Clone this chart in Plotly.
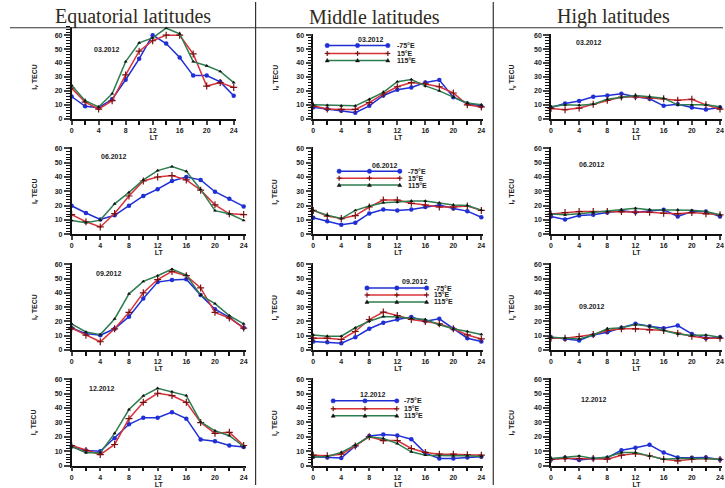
import plotly.graph_objects as go

# ---------------- data ----------------
LT = [0, 2, 4, 6, 8, 10, 12, 14, 16, 18, 20, 22, 24]
X_TICKS = [0, 4, 8, 12, 16, 20, 24]
Y_TICKS = [0, 10, 20, 30, 40, 50, 60]
SERIES_NAMES = ["-75°E", "15°E", "115°E"]
MONTHS = ["03.2012", "06.2012", "09.2012", "12.2012"]
ZONES = ["Equatorial latitudes", "Middle latitudes", "High latitudes"]

# Equatorial
EQ_03_W75 = [16, 9, 8, 14, 28, 43, 60, 54, 44, 31, 31, 26.5, 16.5]
EQ_03_E15 = [22, 12, 7, 13, 31.5, 48.5, 56, 60, 60, 46.5, 23.5, 26, 22.5]
EQ_03_E115 = [24, 13, 8.5, 18, 41, 54.5, 58, 65, 61, 41, 38, 34, 26]
EQ_06_W75 = [19.9, 14.8, 10.3, 13.2, 19.9, 26.7, 31.5, 37.2, 40, 38, 29.7, 24.7, 19.4]
EQ_06_E15 = [13.7, 8.7, 5, 14.4, 26.7, 37.2, 40, 41, 38, 30.8, 20.5, 14.2, 13.7]
EQ_06_E115 = [9.6, 8, 9.8, 21.2, 29.2, 38, 44.5, 47.3, 44, 31.3, 16.4, 14.2, 9.6]
EQ_09_W75 = [15.3, 11.4, 10.3, 14.8, 23.3, 36, 47.5, 49, 49.5, 38.4, 28.5, 22.8, 15.5]
EQ_09_E15 = [15.3, 10.3, 5.7, 14.8, 26.3, 40, 49.3, 55, 52, 43.4, 26.3, 22.4, 15.3]
EQ_09_E115 = [18.3, 12.6, 10.7, 21.7, 39.3, 48, 52, 56.6, 52.5, 38.4, 32.4, 24, 18.3]
EQ_12_W75 = [13.3, 10.6, 10, 19, 28.7, 33.3, 33.3, 37.1, 32.6, 18.1, 17, 14, 12.9]
EQ_12_E15 = [14, 10.6, 7.7, 14.7, 32.6, 43.9, 50.2, 48.6, 43.9, 29.9, 22.4, 23.1, 14]
EQ_12_E115 = [13.3, 9, 9, 22.4, 38.9, 48.4, 53.6, 51.3, 48.6, 30.3, 24.2, 20.8, 13.3]

# Middle
MID_03_W75 = [8.3, 7, 5.8, 4.4, 9.3, 16.7, 20.8, 22.5, 26, 27.8, 15.5, 11, 9]
MID_03_E15 = [9.3, 7, 6.7, 6.7, 11.6, 17.8, 23, 26, 25, 23, 18.5, 10, 8.5]
MID_03_E115 = [10, 9.7, 9.3, 9.3, 14, 19, 26.6, 28.2, 23.6, 20, 15.5, 11.3, 10]
MID_06_W75 = [11.4, 9, 6.6, 8, 14.5, 17.3, 16.6, 17.3, 19, 20.4, 18, 16.1, 11.8]
MID_06_E15 = [16.6, 12.6, 10.9, 13, 19, 23.9, 23.9, 21.6, 20.4, 19, 19, 19.7, 16.6]
MID_06_E115 = [16.6, 13.3, 10.9, 16.6, 19.7, 22, 22.5, 23.2, 23.2, 22, 20.4, 20.1, 16.8]
MID_09_W75 = [5.9, 5.4, 4.7, 8.9, 14.8, 19, 21.3, 23, 20.1, 21.8, 14.8, 8.2, 5.9]
MID_09_E15 = [8.2, 8.2, 7.3, 12.9, 21.3, 26.5, 24.1, 21.3, 19.9, 18.3, 14.8, 10.5, 7.7]
MID_09_E115 = [10.5, 9.6, 9.6, 15.5, 20.1, 23.4, 23, 22.2, 21.3, 17.6, 14.8, 12.9, 10.8]
MID_12_W75 = [6.2, 5.7, 5.3, 13.7, 20.6, 21.7, 21, 18.3, 8.7, 5, 5, 5.7, 6.2]
MID_12_E15 = [7.3, 6.9, 8, 13.7, 20.1, 17.4, 17.4, 11.9, 9.2, 8, 8, 7.6, 7.3]
MID_12_E115 = [6.2, 6.4, 9.2, 14.2, 20.1, 18.8, 15.3, 9.6, 7.3, 6.9, 6.9, 6.9, 6.4]

# High
HI_03_W75 = [8.1, 10.9, 12.8, 15.8, 16.7, 17.9, 15.8, 14.4, 9.3, 10.5, 8.1, 6.7, 8.1]
HI_03_E15 = [7.4, 6.5, 7.7, 10.5, 13.3, 15.6, 15.8, 15.1, 14.4, 13.3, 14, 10, 7]
HI_03_E115 = [8.6, 10, 9.8, 10.5, 14, 15.1, 16.7, 15.8, 14.7, 10, 10, 10, 8.6]
HI_06_W75 = [12.3, 10.2, 13, 13.5, 15.1, 16.3, 15.3, 16.3, 17, 12.3, 15.8, 15.8, 12.3]
HI_06_E15 = [14, 15.1, 15.8, 15.8, 15.8, 15.8, 15.3, 15.3, 14.7, 14.2, 15.1, 14.2, 13.5]
HI_06_E115 = [14, 13.5, 14.2, 15.1, 15.8, 17, 18.1, 17, 17, 17, 16.7, 15.8, 13.5]
HI_09_W75 = [8.9, 7.7, 6.6, 10.5, 12.4, 15.5, 18.3, 16.6, 15.2, 17.1, 11.2, 8.2, 8.9]
HI_09_E15 = [8.2, 8.2, 9.4, 10.8, 13.6, 14.8, 14.8, 14, 13.6, 11.7, 9.6, 8.2, 8.2]
HI_09_E115 = [8.9, 8.2, 7.7, 10.5, 14.8, 15.5, 17.8, 16.6, 13.6, 11.2, 10.1, 10.5, 8.9]
HI_12_W75 = [4.3, 5.5, 3.9, 5, 5.5, 10.7, 12.5, 14.5, 9.1, 5.7, 5.5, 5.7, 4.3]
HI_12_E15 = [4.3, 5, 5, 5, 4.5, 7.3, 8.4, 6.8, 4.5, 3.4, 4.5, 5, 4.3]
HI_12_E115 = [5, 6.1, 6.8, 5, 6.1, 9.1, 9.1, 6.8, 4.5, 5, 5, 5, 4.3]

PANELS = [
    [(EQ_03_W75, EQ_03_E15, EQ_03_E115), (MID_03_W75, MID_03_E15, MID_03_E115), (HI_03_W75, HI_03_E15, HI_03_E115)],
    [(EQ_06_W75, EQ_06_E15, EQ_06_E115), (MID_06_W75, MID_06_E15, MID_06_E115), (HI_06_W75, HI_06_E15, HI_06_E115)],
    [(EQ_09_W75, EQ_09_E15, EQ_09_E115), (MID_09_W75, MID_09_E15, MID_09_E115), (HI_09_W75, HI_09_E15, HI_09_E115)],
    [(EQ_12_W75, EQ_12_E15, EQ_12_E115), (MID_12_W75, MID_12_E15, MID_12_E115), (HI_12_W75, HI_12_E15, HI_12_E115)],
]

# ---------------- layout helpers ----------------
W, H = 725, 488
def px(x):
    return x / W
def py(y):
    return 1 - y / H

LINE_COL = ["#1f2fd6", "#d8333a", "#2e7d4f"]
MARK = [
    dict(symbol="circle", size=4.5, color="#1f2fd6"),
    dict(symbol="cross-thin", size=5, color="#7a1010", line=dict(width=1.2, color="#7a1010")),
    dict(symbol="triangle-up", size=3.5, color="#111111"),
]

# pixel geometry of axes: (x at 0 h, x at 24 h) and (y at 0, y at 60)
X_PIX = [[(70, 233), (313, 482), (552, 722)]] + [[(70, 243), (313, 482), (552, 722)]] * 3
Y_PIX = [(118, 33.5), (234.5, 148), (351.5, 265), (468.5, 381)]

FONT = "Liberation Sans"
TXT = dict(family=FONT, size=7, color="#222", weight="bold")

fig = go.Figure()
layout = dict(width=W, height=H, margin=dict(l=0, r=0, t=0, b=0),
              paper_bgcolor="white", plot_bgcolor="white", showlegend=False)
annotations = []
shapes = []

def note(text, x, y, xanchor="center", **kw):
    d = dict(text=text, x=px(x), y=py(y), xref="paper", yref="paper", showarrow=False,
             xanchor=xanchor, yanchor="middle", font=kw.pop("font", TXT))
    d.update(kw)
    annotations.append(d)

for r in range(4):
    for c in range(3):
        k = r * 3 + c + 1
        xa = "x" if k == 1 else f"x{k}"
        ya = "y" if k == 1 else f"y{k}"
        x0p, x24p = X_PIX[r][c]
        xmax = 24.3
        xend = x0p + (x24p - x0p) * xmax / 24
        y0p, y60p = Y_PIX[r]
        ymax = 66 if (r == 0 and c == 0) else 61
        ytop = y0p - (y0p - y60p) * ymax / 60
        for s in range(3):
            fig.add_trace(go.Scatter(
                x=LT, y=PANELS[r][c][s], mode="lines+markers", name=SERIES_NAMES[s],
                line=dict(color=LINE_COL[s], width=1.5), marker=MARK[s],
                xaxis=xa, yaxis=ya, cliponaxis=False))
        layout["xaxis" if k == 1 else f"xaxis{k}"] = dict(
            domain=[px(x0p), min(px(xend), 1)], range=[0, xmax], anchor=ya,
            tickvals=X_TICKS, ticks="outside", ticklen=4, tickwidth=1.5,
            minor=dict(dtick=2, tick0=0, ticks="outside", ticklen=4, tickwidth=1.5, tickcolor="#111"),
            showline=True, linecolor="#111", linewidth=1.5, showgrid=False, zeroline=False,
            tickfont=TXT,
            title=dict(text="LT", font=TXT, standoff=1),
            fixedrange=True)
        layout["yaxis" if k == 1 else f"yaxis{k}"] = dict(
            domain=[py(y0p), py(ytop)], range=[0, ymax], anchor=xa,
            tickvals=Y_TICKS, ticks="outside", ticklen=6, tickwidth=1.5,
            minor=dict(dtick=2, tick0=0, ticks="outside", ticklen=4, tickwidth=1, tickcolor="#111"),
            showline=True, linecolor="#111", linewidth=1.5, showgrid=False, zeroline=False,
            tickfont=TXT,
            fixedrange=True)

# y-axis labels
YLAB_X = [33, 275, 513]
for r in range(4):
    yc = (Y_PIX[r][0] + Y_PIX[r][1]) / 2
    for c in range(3):
        note("I<sub>v</sub> TECU", YLAB_X[c], yc, textangle=-90)

# headers
HEAD_X = [132, 375, 615]
HEAD_FONT = dict(family="Times New Roman, Liberation Serif, DejaVu Serif, serif", size=20, color="#2f2a1c")
for c in range(3):
    note(ZONES[c], HEAD_X[c], 15, font=HEAD_FONT)
shapes.append(dict(type="line", xref="paper", yref="paper", x0=px(8), x1=1, y0=py(26), y1=py(26),
                   line=dict(color="#333", width=1.2)))
for xs in (255, 494):
    shapes.append(dict(type="line", xref="paper", yref="paper", x0=px(xs), x1=px(xs), y0=0, y1=1,
                       line=dict(color="#333", width=1.2)))

# month labels (left & right columns)
MONTH_POS = {
    0: [(105, 48), (590, 41)],
    1: [(112, 156), (593, 164)],
    2: [(107, 274), (593, 308)],
    3: [(100, 390), (595, 402)],
}
for r in range(4):
    for (mx, my) in MONTH_POS[r]:
        note(MONTHS[r], mx, my)

# legends in middle column (decoration keys)
LEG = [  # title center x, title y, line x0, line x1, item ys, text x
    (371, 38, 327, 388, (44, 52, 59), 395),
    (385, 165, 339, 400, (171, 178, 185), 406),
    (415, 282, 367, 427, (289, 296, 303), 432),
    (373, 397, 333, 397, (403, 411, 418), 402),
]
for r, (tx, ty, lx0, lx1, ys, txt_x) in enumerate(LEG):
    note(MONTHS[r], tx, ty)
    for s in range(3):
        yy = ys[s]
        shapes.append(dict(type="line", xref="paper", yref="paper", x0=px(lx0), x1=px(lx1),
                           y0=py(yy), y1=py(yy), line=dict(color=LINE_COL[s], width=1.5)))
        for mxp in (lx0, (lx0 + lx1) / 2, lx1):
            if s == 0:
                shapes.append(dict(type="circle", xref="paper", yref="paper", x0=px(mxp - 2.2), x1=px(mxp + 2.2),
                                   y0=py(yy + 2.2), y1=py(yy - 2.2), fillcolor=LINE_COL[0],
                                   line=dict(color=LINE_COL[0], width=0.5)))
            elif s == 1:
                shapes.append(dict(type="line", xref="paper", yref="paper", x0=px(mxp - 2.5), x1=px(mxp + 2.5),
                                   y0=py(yy), y1=py(yy), line=dict(color="#7a1010", width=1.2)))
                shapes.append(dict(type="line", xref="paper", yref="paper", x0=px(mxp), x1=px(mxp),
                                   y0=py(yy - 2.5), y1=py(yy + 2.5), line=dict(color="#7a1010", width=1.2)))
            else:
                path = (f"M {px(mxp - 2)},{py(yy + 1.5)} L {px(mxp + 2)},{py(yy + 1.5)} "
                        f"L {px(mxp)},{py(yy - 2)} Z")
                shapes.append(dict(type="path", xref="paper", yref="paper", path=path,
                                   fillcolor="#111", line=dict(color="#111", width=0.5)))
        note(SERIES_NAMES[s], txt_x, yy, xanchor="left")

layout["annotations"] = annotations
layout["shapes"] = shapes
fig.update_layout(**layout)
fig.write_html("out.html")
